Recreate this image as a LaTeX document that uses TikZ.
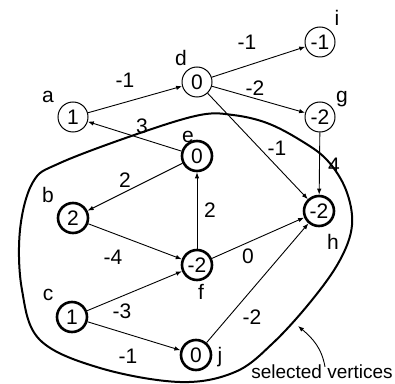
\documentclass[tikz,border=0pt]{standalone}
\usepackage{fontspec}
\setmainfont{Liberation Sans}
\usetikzlibrary{arrows.meta}
\begin{document}
\begin{tikzpicture}[x=1pt,y=1pt,
  vtx/.style={circle,draw,line width=1pt,minimum size=30pt,inner sep=0pt,font=\fontsize{21}{22}\selectfont},
  selvtx/.style={vtx,line width=2.6pt},
  vname/.style={font=\fontsize{21}{22}\selectfont,inner sep=0pt},
  wt/.style={font=\fontsize{21}{22}\selectfont,inner sep=0pt},
  edge/.style={line width=0.9pt,-{Latex[length=6pt,width=4.5pt]}},
  region/.style={line width=2pt}]
\useasboundingbox (0,0) rectangle (395,383);

% vertices outside the selection
\node[vtx] (a) at (73,266) {1};
\node[vtx] (d) at (197,301) {0};
\node[vtx] (i) at (320,341) {-1};
\node[vtx] (g) at (320,266) {-2};
% selected vertices
\node[selvtx] (e) at (197,227) {0};
\node[selvtx] (b) at (73,165) {2};
\node[selvtx] (f) at (197,118) {-2};
\node[selvtx] (h) at (319,172) {-2};
\node[selvtx] (c) at (72,66) {1};
\node[selvtx] (j) at (196,28) {0};

% vertex names
\node[vname] (na) at (48,286) {a};
\node[vname] (nd) at (181,325) {d};
\node[vname] (ni) at (337,365) {i};
\node[vname] (ng) at (342,284) {g};
\node[vname] (ne) at (188,246) {e};
\node[vname] (nb) at (48,188) {b};
\node[vname] (nc) at (48,88) {c};
\node[vname] (nf) at (201,91) {f};
\node[vname] (nh) at (333,141) {h};
\node[vname] (nj) at (220,26) {j};

% weighted edges
\draw[edge] (a) -- (d);
\draw[edge] (d) -- (i);
\draw[edge] (d) -- (g);
\draw[edge] (d) -- (h);
\draw[edge] (g) -- (h);
\draw[edge] (e) -- (a);
\draw[edge] (e) -- (b);
\draw[edge] (f) -- (e);
\draw[edge] (b) -- (f);
\draw[edge] (f) -- (h);
\draw[edge] (c) -- (f);
\draw[edge] (c) -- (j);
\draw[edge] (j) -- (h);

% edge weights
\node[wt] (wad) at (125,303) {-1};
\node[wt] (wdi) at (247,341) {-1};
\node[wt] (wdg) at (255,295) {-2};
\node[wt] (wdh) at (277,235) {-1};
\node[wt] (wgh) at (334,218) {4};
\node[wt] (wea) at (142,257) {3};
\node[wt] (web) at (125,203) {2};
\node[wt] (wfe) at (210,173) {2};
\node[wt] (wbf) at (113,126) {-4};
\node[wt] (wfh) at (248,127) {0};
\node[wt] (wcf) at (122,72) {-3};
\node[wt] (wcj) at (128,27) {-1};
\node[wt] (wjh) at (252,66) {-2};

% boundary of the selected set
\draw[region] plot[smooth cycle,tension=0.6] coordinates {
  (200,268) (140,250) (60,220) (33,201) (20,153) (22,93) (40,43)
  (100,15) (180,1) (235,11) (273,40) (312,83) (340,123) (352,158)
  (346,193) (327,223) (300,243) (267,260) (233,268)};

% annotation
\node[wt,font=\fontsize{19}{20}\selectfont] (note) at (322,11) {selected vertices};
\coordinate (rim) at (298,57);
\draw[line width=0.9pt,-{Latex[length=6pt,width=4.5pt]}] ([xshift=3pt,yshift=-2pt]note.north) to[out=100,in=-40] (rim);
\end{tikzpicture}
\end{document}
